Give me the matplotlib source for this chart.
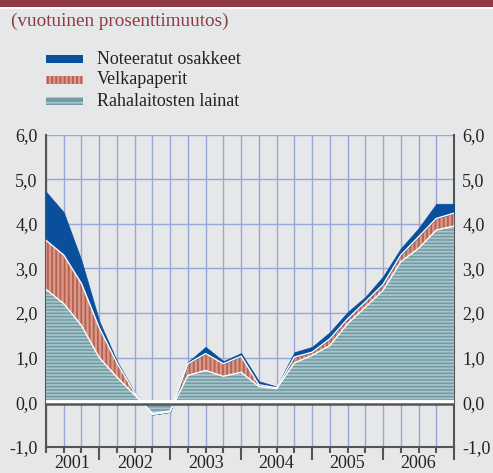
import matplotlib
matplotlib.use("Agg")
import matplotlib.pyplot as plt
from matplotlib.patches import Rectangle
from matplotlib import transforms

plt.rcParams["font.family"] = ["Liberation Serif", "DejaVu Serif"]
plt.rcParams["hatch.linewidth"] = 1.3

# quarterly points, 2001 Q1 end ... 2006 Q4 end
quarters = list(range(24))
lainat = [2.53, 2.21, 1.72, 1.00, 0.56, 0.16, -0.25, -0.20, 0.60, 0.71, 0.58, 0.67,
          0.35, 0.30, 0.88, 1.05, 1.27, 1.76, 2.13, 2.51, 3.15, 3.45, 3.86, 3.95]
velka = [1.10, 1.09, 0.94, 0.67, 0.32, 0.05, -0.03, -0.02, 0.26, 0.38, 0.28, 0.36,
         0.04, 0.02, 0.13, 0.07, 0.15, 0.11, 0.12, 0.13, 0.15, 0.26, 0.26, 0.29]
osakkeet = [1.09, 0.96, 0.52, 0.15, 0.04, 0.01, 0.0, 0.0, 0.04, 0.15, 0.06, 0.07,
            0.08, 0.03, 0.11, 0.12, 0.15, 0.15, 0.11, 0.18, 0.15, 0.19, 0.33, 0.21]
years = ["2001", "2002", "2003", "2004", "2005", "2006"]
year_pos = [1.5, 5, 9, 13, 17, 21]
year_edges = [3, 7, 11, 15, 19, 23]
yticks = [-1, 0, 1, 2, 3, 4, 5, 6]

bg = "#e6e7e9"
grid = "#98a5d8"
dark = "#555555"
blue = "#0a4f9c"
teal, teal_hatch = "#6f9aa3", "#a9c5ca"
red, red_hatch = "#d9998a", "#b8604e"

fig = plt.figure(figsize=(4.93, 4.73), dpi=100, facecolor=bg)

# top band and subtitle
fig.patches.append(Rectangle((0, 1 - 7 / 473), 1, 7 / 473, transform=fig.transFigure,
                             facecolor="#8e3a40", edgecolor="none"))
fig.patches.append(Rectangle((0, 1 - 9.5 / 473), 1, 2.5 / 473, transform=fig.transFigure,
                             facecolor="white", edgecolor="none"))
fig.text(11 / 493, 1 - 21 / 473, "(vuotuinen prosenttimuutos)", color="#8e3a40",
         fontsize=13.8, va="center", ha="left")

# legend
leg = [("Noteeratut osakkeet", blue, None, blue),
       ("Velkapaperit", red, "||||", red_hatch),
       ("Rahalaitosten lainat", teal, "---", teal_hatch)]
for k, (lab, fc, h, hc) in enumerate(leg):
    yc = 59 + k * 21
    fig.patches.append(Rectangle((46 / 493, 1 - (yc + 4) / 473), 37 / 493, 8 / 473,
                                 transform=fig.transFigure, facecolor=fc, edgecolor=hc,
                                 hatch=h, linewidth=0))
    fig.text(97 / 493, 1 - yc / 473, lab, fontsize=13, color="#222222",
             va="center", ha="left")

ax = fig.add_axes([46 / 493, 1 - 446.7 / 473, 408 / 493, 312 / 473], facecolor=bg)
ax.set_xlim(0, 23)
ax.set_ylim(-1, 6)

for q in quarters:
    ax.axvline(q, color=grid, lw=1, zorder=0.5)
for v in [1, 2, 3, 4, 5, 6]:
    ax.axhline(v, color=grid, lw=1, zorder=0.5)

base = [0.0] * len(quarters)
top1 = lainat
top2 = [a + b for a, b in zip(lainat, velka)]
top3 = [a + b for a, b in zip(top2, osakkeet)]

ax.fill_between(quarters, base, top1, facecolor=teal, edgecolor=teal_hatch,
                hatch="-----", linewidth=0, zorder=1)
ax.fill_between(quarters, top1, top2, facecolor=red, edgecolor=red_hatch,
                hatch="||||", linewidth=0, zorder=1)
ax.fill_between(quarters, top2, top3, facecolor=blue, edgecolor=blue,
                linewidth=0.5, zorder=1)
ax.plot(quarters, top1, color="white", lw=1, zorder=2)
ax.plot(quarters, top2, color="white", lw=1, zorder=2)

# zero line: white strip above a dark line
ax.axhline(0, color="white", lw=3.5, zorder=3)
low = transforms.offset_copy(ax.transData, fig=fig, x=0, y=-1.5, units="dots")
ax.plot([0, 23], [0, 0], color=dark, lw=1.8, zorder=3, transform=low)

for s in ["left", "right", "bottom"]:
    ax.spines[s].set_color(dark)
    ax.spines[s].set_linewidth(1.5)
    ax.spines[s].set_zorder(0.8)
ax.spines["top"].set_visible(False)

ax.set_yticks(yticks)
ax.set_yticklabels([f"{v:.1f}".replace(".", ",") for v in yticks])
ax.tick_params(axis="y", length=0, labelsize=13, labelright=True, pad=6,
               colors="#222222")

ax.set_xticks(year_edges)
ax.set_xticklabels([])
ax.set_xticks(quarters, minor=True)
ax.tick_params(axis="x", which="major", length=9, width=1.5, color=dark)
ax.tick_params(axis="x", which="minor", length=4, width=1.5, color=dark)
below = transforms.offset_copy(ax.transData, fig=fig, x=0, y=-8, units="dots")
for yr, p in zip(years, year_pos):
    ax.text(p, -1, yr, transform=below, ha="center", va="top",
            fontsize=13, color="#222222")

fig.savefig("out.png", dpi=100, facecolor=bg)
